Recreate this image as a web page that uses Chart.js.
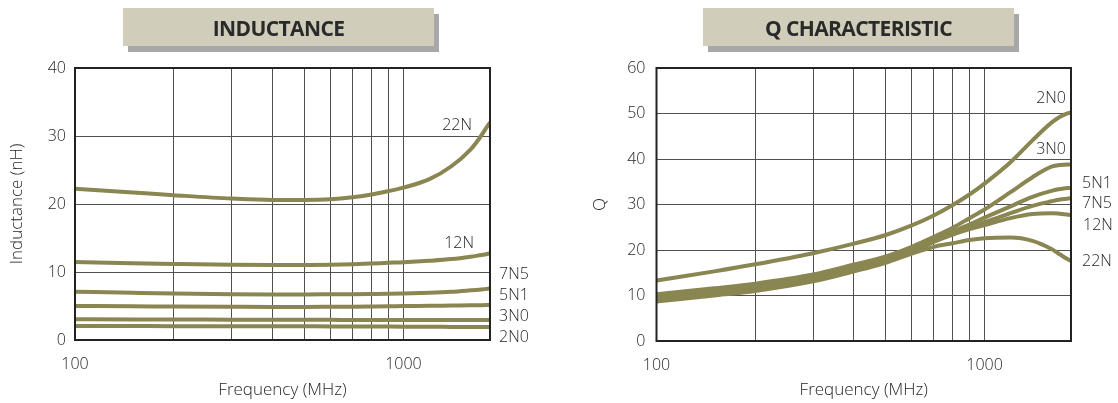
<!DOCTYPE html>
<html><head><meta charset="utf-8">
<script src="https://cdn.jsdelivr.net/npm/chart.js@4.4.0/dist/chart.umd.min.js"></script>
<style>
html,body{margin:0;padding:0;background:#fff;width:1118px;height:403px;overflow:hidden;font-family:"Open Sans",sans-serif;}
.panel{position:absolute;top:0;width:559px;height:403px;}
.panel canvas{position:absolute;left:0;top:0;}
.title{position:absolute;top:8px;width:311px;height:38px;background:#d0cebb;box-shadow:5px 6px 0 #a8a8aa;color:#2a2a2a;font-weight:700;font-size:21px;letter-spacing:-0.6px;line-height:40px;text-align:center;}
</style></head>
<body>
<div class="panel" style="left:0"><canvas id="c1" width="559" height="403"></canvas></div>
<div class="panel" style="left:559px"><canvas id="c2" width="559" height="403"></canvas></div>
<div class="title" style="left:123px">INDUCTANCE</div>
<div class="title" style="left:703px">Q CHARACTERISTIC</div>
<script>
// ---------- data ----------
const freqMHz = [100,150,200,300,400,500,600,700,800,900,1000,1200,1400,1600,1700,1800,1835];
const seriesNames = ['2N0','3N0','5N1','7N5','12N','22N'];

// Inductance (nH)
const L_2N0 = [2.06,2.05,2.04,2.03,2.02,2.01,2.00,1.99,1.98,1.97,1.96,1.94,1.93,1.92,1.91,1.90,1.90];
const L_3N0 = [3.05,3.03,3.01,2.99,2.97,2.96,2.96,2.95,2.95,2.95,2.95,2.95,2.95,2.94,2.94,2.94,2.94];
const L_5N1 = [5.00,4.96,4.92,4.88,4.86,4.86,4.88,4.90,4.93,4.96,5.00,5.03,5.07,5.10,5.12,5.14,5.15];
const L_7N5 = [7.10,6.95,6.85,6.74,6.70,6.70,6.72,6.74,6.77,6.80,6.84,6.95,7.10,7.30,7.40,7.52,7.60];
const L_12N = [11.47,11.30,11.18,11.05,11.03,11.04,11.07,11.15,11.25,11.35,11.43,11.65,11.90,12.25,12.45,12.65,12.75];
const L_22N = [22.25,21.70,21.30,20.80,20.60,20.60,20.70,21.00,21.40,21.90,22.40,23.65,25.55,28.00,29.60,31.40,32.00];

// Q
const Q_2N0 = [13.3,15.3,16.85,19.3,21.4,23.3,25.4,27.6,29.9,32.2,34.6,39.3,44.1,48.0,49.3,50.1,50.2];
const Q_3N0 = [10.3,11.6,12.6,14.6,16.8,18.6,20.7,22.9,24.9,27.0,28.9,32.7,36.0,38.3,38.7,38.8,38.8];
const Q_5N1 = [9.9,11.2,12.2,14.3,16.5,18.3,20.3,22.3,24.1,25.6,27.1,29.6,31.7,33.0,33.4,33.6,33.6];
const Q_7N5 = [9.5,10.8,11.8,13.9,16.1,18.0,20.0,22.0,23.7,25.0,26.1,28.1,29.7,30.7,31.1,31.3,31.4];
const Q_12N = [9.1,10.4,11.4,13.5,15.7,17.6,19.6,21.8,23.4,24.6,25.5,27.0,27.9,28.1,27.95,27.75,27.7];
const Q_22N = [8.7,10.0,11.0,13.1,15.3,17.2,19.2,20.7,21.5,22.2,22.6,22.75,22.0,20.2,19.0,17.9,17.6];

const xGridValues = [100,200,300,400,500,600,700,800,900,1000];
const xTickLabels = ['100','1000'];
const inductanceTicks = [0,10,20,30,40];
const qTicks = [0,10,20,30,40,50,60];

// ---------- drawing ----------
const FONT = '"Open Sans", sans-serif';
const TEXT = '#262626';
const LINE = '#8a8651';
const GRID = '#505050';

const framePlugin = {
  id: 'frameAndLabels',
  afterDatasetsDraw(chart, args, opts) {
    const {ctx, chartArea: a} = chart;
    ctx.save();
    ctx.strokeStyle = '#222';
    ctx.lineWidth = 2;
    ctx.strokeRect(a.left, a.top, a.right - a.left, a.bottom - a.top);
    ctx.fillStyle = TEXT;
    ctx.font = '300 16px ' + FONT;
    ctx.textBaseline = 'middle';
    (opts.labels || []).forEach(l => {
      ctx.textAlign = l.align;
      ctx.fillText(l.text, a.right + l.dx, l.y);
    });
    ctx.restore();
  }
};

function makeChart(id, values, yTicks, yTitle, yTitlePad, yWidth, padRight, xHeight, tickPadY, labels) {
  const datasets = seriesNames.map((n, k) => ({
    label: n,
    data: freqMHz.map((f, i) => ({x: f, y: values[k][i]})),
    borderColor: LINE,
    borderWidth: 4,
    pointRadius: 0,
    fill: false,
    cubicInterpolationMode: 'monotone'
  }));
  return new Chart(document.getElementById(id), {
    type: 'line',
    data: {datasets},
    options: {
      responsive: false,
      animation: false,
      layout: {padding: {left: 0, top: 68, right: padRight, bottom: 0}},
      plugins: {legend: {display: false}, tooltip: {enabled: false}, frameAndLabels: {labels}},
      scales: {
        x: {
          type: 'logarithmic',
          min: freqMHz[0], max: freqMHz[freqMHz.length - 1],
          afterBuildTicks: s => { s.ticks = xGridValues.map(v => ({value: v})); },
          afterFit: s => { s.height = xHeight; },
          ticks: {
            autoSkip: false, maxRotation: 0, padding: 15, color: TEXT,
            font: {family: FONT, size: 16, weight: 300},
            callback: v => xTickLabels.includes(String(v)) ? String(v) : ''
          },
          grid: {color: GRID, lineWidth: 1, drawTicks: false},
          border: {display: false},
          title: {display: true, text: 'Frequency (MHz)', color: TEXT,
                  font: {family: FONT, size: 17, weight: 300}, padding: {top: 0, bottom: 3}}
        },
        y: {
          min: yTicks[0], max: yTicks[yTicks.length - 1],
          afterBuildTicks: s => { s.ticks = yTicks.map(v => ({value: v})); },
          afterFit: s => { s.width = yWidth; },
          ticks: {padding: tickPadY, color: TEXT, font: {family: FONT, size: 16, weight: 300}},
          grid: {color: GRID, lineWidth: 1, drawTicks: false},
          border: {display: false},
          title: {display: true, text: yTitle, color: TEXT,
                  font: {family: FONT, size: 17, weight: 300}, padding: {top: yTitlePad, bottom: 0}}
        }
      }
    },
    plugins: [framePlugin]
  });
}

makeChart('c1', [L_2N0, L_3N0, L_5N1, L_7N5, L_12N, L_22N], inductanceTicks,
  'Inductance (nH)', 7, 75, 69, 63, 9, [
    {text: '22N', align: 'right', dx: -18, y: 125},
    {text: '12N', align: 'right', dx: -16, y: 243},
    {text: '7N5', align: 'left', dx: 9, y: 274},
    {text: '5N1', align: 'left', dx: 9, y: 295},
    {text: '3N0', align: 'left', dx: 9, y: 316},
    {text: '2N0', align: 'left', dx: 9, y: 337}
  ]);

makeChart('c2', [Q_2N0, Q_3N0, Q_5N1, Q_7N5, Q_12N, Q_22N], qTicks,
  'Q', 31, 97.5, 47, 62, 11, [
    {text: '2N0', align: 'right', dx: -5, y: 98},
    {text: '3N0', align: 'right', dx: -5, y: 149},
    {text: '5N1', align: 'left', dx: 11, y: 183},
    {text: '7N5', align: 'left', dx: 11, y: 203},
    {text: '12N', align: 'left', dx: 12, y: 225},
    {text: '22N', align: 'left', dx: 11, y: 261}
  ]);
</script>
</body></html>
